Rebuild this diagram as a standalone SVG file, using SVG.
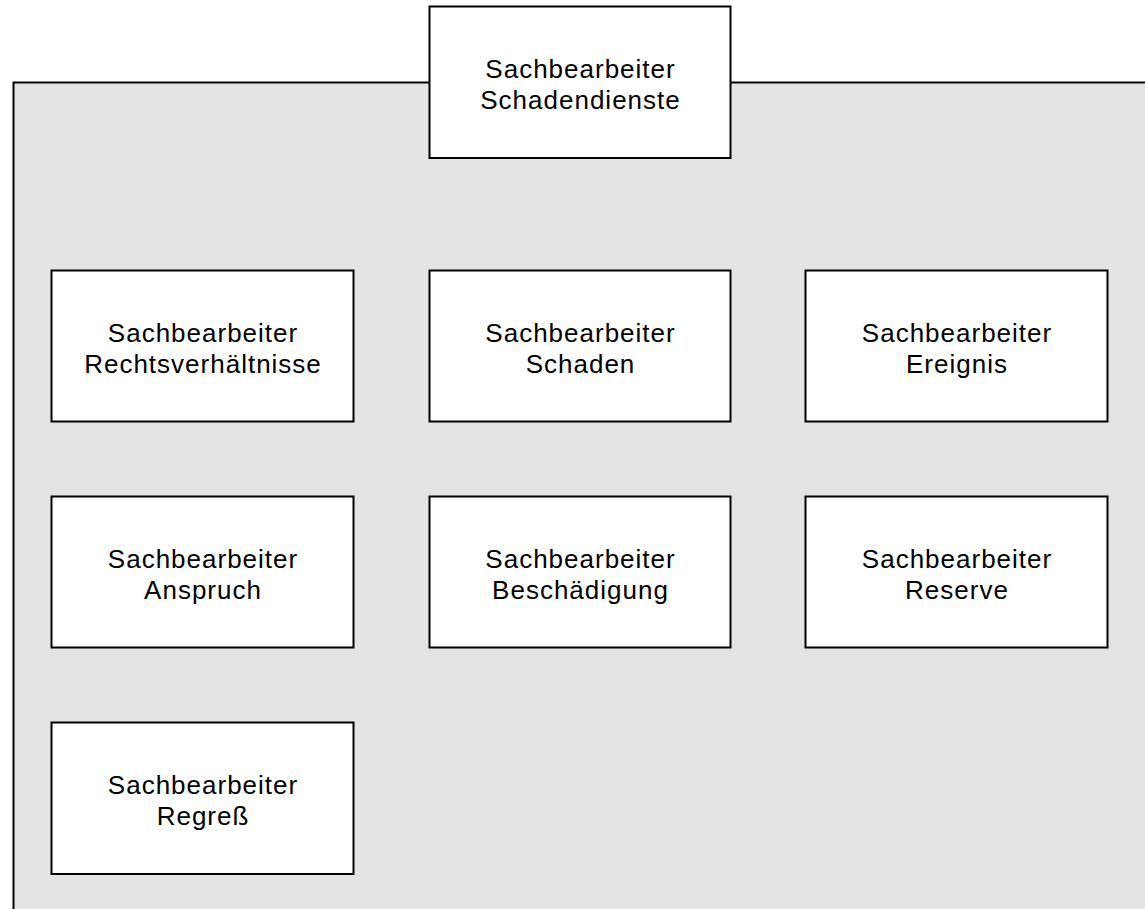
<svg xmlns="http://www.w3.org/2000/svg" width="1145" height="909" viewBox="0 0 1145 909">
<style>
.bgfill{fill:#e4e4e4}
.edge{fill:none;stroke:#000;stroke-width:2}
.box{fill:#fff;stroke:#000;stroke-width:2}
.t{font-family:"Liberation Sans",Arial,sans-serif;font-size:26px;letter-spacing:1px;fill:#000;text-anchor:middle}
</style>
<rect width="1145" height="909" fill="#fff"/>
<g id="container">
<rect class="bgfill" x="13.5" y="82.5" width="1140" height="830"/>
<path class="edge" d="M1150,82.5 H13.5 V915"/>
</g>
<g id="connectors"></g>
<g id="n0"><rect class="box" x="429.5" y="6.5" width="301" height="151.5"/><text class="t" x="580.5" y="78">Sachbearbeiter</text><text class="t" x="580.5" y="109">Schadendienste</text></g>
<g id="n1"><rect class="box" x="51.5" y="270.5" width="302" height="151"/><text class="t" x="203" y="342">Sachbearbeiter</text><text class="t" x="203" y="373">Rechtsverhältnisse</text></g>
<g id="n2"><rect class="box" x="429.5" y="270.5" width="301" height="151"/><text class="t" x="580.5" y="342">Sachbearbeiter</text><text class="t" x="580.5" y="373">Schaden</text></g>
<g id="n3"><rect class="box" x="805.5" y="270.5" width="302" height="151"/><text class="t" x="957" y="342">Sachbearbeiter</text><text class="t" x="957" y="373">Ereignis</text></g>
<g id="n4"><rect class="box" x="51.5" y="496.5" width="302" height="151"/><text class="t" x="203" y="568">Sachbearbeiter</text><text class="t" x="203" y="599">Anspruch</text></g>
<g id="n5"><rect class="box" x="429.5" y="496.5" width="301" height="151"/><text class="t" x="580.5" y="568">Sachbearbeiter</text><text class="t" x="580.5" y="599">Beschädigung</text></g>
<g id="n6"><rect class="box" x="805.5" y="496.5" width="302" height="151"/><text class="t" x="957" y="568">Sachbearbeiter</text><text class="t" x="957" y="599">Reserve</text></g>
<g id="n7"><rect class="box" x="51.5" y="722.5" width="302" height="151.5"/><text class="t" x="203" y="794">Sachbearbeiter</text><text class="t" x="203" y="825">Regreß</text></g>
</svg>
